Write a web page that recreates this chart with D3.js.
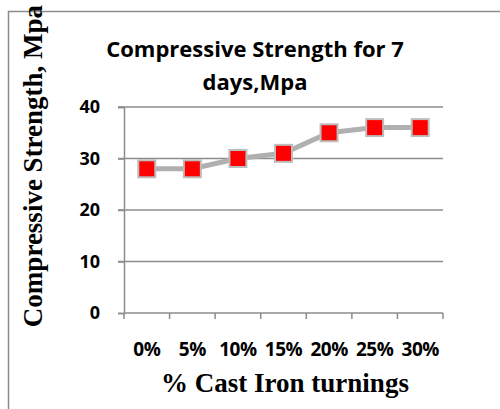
<!DOCTYPE html>
<html>
<head>
<meta charset="utf-8">
<script src="https://cdn.jsdelivr.net/npm/d3@7"></script>
<style>
body { margin: 0; background: #fff; }
svg { display: block; }
</style>
</head>
<body>
<script>
var categories = ["0%", "5%", "10%", "15%", "20%", "25%", "30%"];
var strength = [28, 28, 30, 31, 35, 36, 36];
var yTicks = [0, 10, 20, 30, 40];

var chart = {};
chart.w = 500;
chart.h = 409;
chart.left = 124;
chart.right = 443;
chart.top = 107;
chart.bottom = 313;
chart.sans = "'Open Sans', Lato, sans-serif";
chart.serif = "'Liberation Serif', 'Times New Roman', serif";

var svg = d3.select("body").append("svg")
	.attr("width", chart.w)
	.attr("height", chart.h);

// outer frame (only left and top edges are visible)
svg.append("path")
	.attr("d", "M8.5," + chart.h + "V11.5H" + chart.w)
	.attr("fill", "none")
	.attr("stroke", "#8c8c8c")
	.attr("stroke-width", 1.5);

var x = d3.scaleBand().domain(categories).range([chart.left, chart.right]);
var y = d3.scaleLinear().domain([0, 40]).range([chart.bottom, chart.top]);

// gridlines
svg.append("g").selectAll("line")
	.data(yTicks.slice(1))
	.enter().append("line")
	.attr("x1", chart.left - 6)
	.attr("x2", chart.right)
	.attr("y1", function(d){ return y(d); })
	.attr("y2", function(d){ return y(d); })
	.attr("stroke", "#8c8c8c")
	.attr("stroke-width", 1.5);

// y axis
var yAxis = svg.append("g")
	.attr("transform", "translate(" + chart.left + ",0)")
	.call(d3.axisLeft(y).tickValues(yTicks).tickSize(6).tickPadding(18));
yAxis.select(".domain").attr("stroke", "#8c8c8c").attr("stroke-width", 1.5);
yAxis.selectAll(".tick line").attr("stroke", "#8c8c8c").attr("stroke-width", 1.5);
yAxis.selectAll("text")
	.attr("font-family", chart.sans)
	.attr("font-weight", "bold")
	.attr("font-size", 18)
	.attr("fill", "#000");

// x axis, ticks on category boundaries
var xAxis = svg.append("g")
	.attr("transform", "translate(0," + chart.bottom + ")")
	.call(d3.axisBottom(x).tickSize(0).tickPadding(30));
xAxis.select(".domain").remove();
xAxis.append("line")
	.attr("x1", chart.left).attr("x2", chart.right)
	.attr("stroke", "#8c8c8c").attr("stroke-width", 1.5);
xAxis.selectAll("line.bound")
	.data(categories.concat([null]))
	.enter().append("line")
	.attr("class", "bound")
	.attr("x1", function(d, i){ return chart.left + i * x.step(); })
	.attr("x2", function(d, i){ return chart.left + i * x.step(); })
	.attr("y1", 0).attr("y2", 6)
	.attr("stroke", "#8c8c8c").attr("stroke-width", 1.5);
xAxis.selectAll(".tick text")
	.attr("font-family", chart.sans)
	.attr("font-weight", "bold")
	.attr("font-size", 19)
	.attr("letter-spacing", -0.5)
	.attr("fill", "#000");

// series line
var line = d3.line()
	.x(function(d, i){ return x(categories[i]) + x.bandwidth() / 2; })
	.y(function(d){ return y(d); });

svg.append("path")
	.datum(strength)
	.attr("d", line)
	.attr("fill", "none")
	.attr("stroke", "#b0b0b0")
	.attr("stroke-width", 5);

// markers
var ms = 17;
svg.append("g").selectAll("rect")
	.data(strength)
	.enter().append("rect")
	.attr("x", function(d, i){ return x(categories[i]) + x.bandwidth() / 2 - ms / 2; })
	.attr("y", function(d){ return y(d) - ms / 2; })
	.attr("width", ms)
	.attr("height", ms)
	.attr("fill", "#ff0000")
	.attr("stroke", "#bdbdbd")
	.attr("stroke-width", 2);

// title
var title = svg.append("text")
	.attr("text-anchor", "middle")
	.attr("font-family", chart.sans)
	.attr("font-weight", "bold")
	.attr("font-size", 22)
	.attr("fill", "#000");
title.append("tspan").attr("x", 255).attr("y", 57).text("Compressive Strength for 7");
title.append("tspan").attr("x", 255).attr("y", 90).text("days,Mpa");

// axis titles
svg.append("text")
	.attr("x", 285)
	.attr("y", 392)
	.attr("text-anchor", "middle")
	.attr("font-family", chart.serif)
	.attr("font-weight", "bold")
	.attr("font-size", 27)
	.attr("fill", "#000")
	.text("% Cast Iron turnings");

svg.append("text")
	.attr("transform", "translate(42,166) rotate(-90)")
	.attr("text-anchor", "middle")
	.attr("font-family", chart.serif)
	.attr("font-weight", "bold")
	.attr("font-size", 27)
	.attr("fill", "#000")
	.text("Compressive Strength, Mpa");
</script>
</body>
</html>
